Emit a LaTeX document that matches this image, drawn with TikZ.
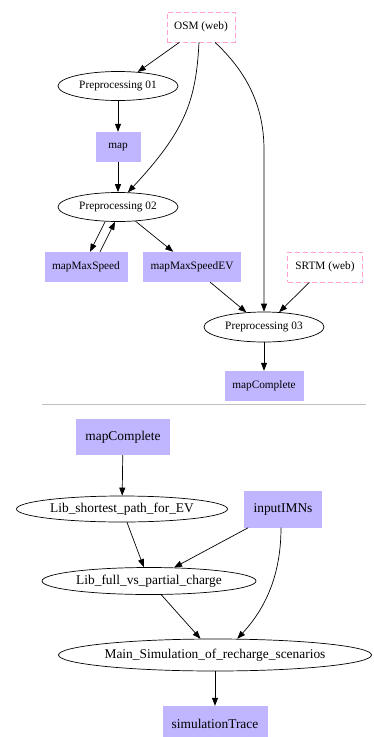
\documentclass[tikz,border=0pt]{standalone}
\usepackage{fontspec}
\setmainfont{Liberation Serif}
\usetikzlibrary{shapes.geometric,arrows.meta}
\definecolor{datafill}{RGB}{192,182,255}
\definecolor{webdash}{RGB}{255,160,210}

\begin{document}
\begin{tikzpicture}[x=1pt, y=-1pt,
                    proc/.style={ellipse, draw, inner sep=0pt, line width=0.7pt,
                                  font=\fontsize{11.3}{13}\selectfont},
                    data/.style={rectangle, fill=datafill, inner sep=0pt,
                                 minimum height=30pt,
                                 font=\fontsize{11.3}{13}\selectfont},
                    web/.style={rectangle, draw=webdash, inner sep=0pt,
                                line width=0.7pt, dash pattern=on 5pt off 3pt,
                                minimum height=30pt,
                                font=\fontsize{11.3}{13}\selectfont},
                    big/.style={font=\fontsize{13.4}{16}\selectfont},
                    arr/.style={-{Triangle[length=8pt,width=6pt]}, line width=0.7pt}]
    \useasboundingbox (0,0) rectangle (374,737);

    % first graph
    \node[web, minimum width=68pt] (osm) at (201,27) {OSM (web)};
    \node[proc, minimum width=120pt, minimum height=29pt] (p1) at (118,86) {Preprocessing 01};
    \node[data, minimum width=45pt] (map) at (118,147) {map};
    \node[proc, minimum width=120pt, minimum height=29pt] (p2) at (118,207) {Preprocessing 02};
    \node[data, minimum width=83pt] (mms) at (86,267) {mapMaxSpeed};
    \node[data, minimum width=98pt] (mmsev) at (192,267) {mapMaxSpeedEV};
    \node[web, minimum width=75pt] (srtm) at (325,267) {SRTM (web)};
    \node[proc, minimum width=120pt, minimum height=30pt] (p3) at (264,327) {Preprocessing 03};
    \node[data, minimum width=79pt] (mc) at (264,386) {mapComplete};
    \coordinate (bend) at (264,150);

    \foreach \i/\j in {osm/p1, p1/map, map/p2, p2/mmsev, mmsev/p3,
            srtm/p3, p3/mc} {
            \draw[arr] (\i) -- (\j);
        }
    \draw[arr] ([xshift=-13pt]p2.south) -- ([xshift=4pt]mms.north);
    \draw[arr] ([xshift=14pt]mms.north) -- ([xshift=-3pt]p2.south);
    \draw[arr] ([xshift=-2pt]osm.south) .. controls (196,100) and (186,130) .. (p2.56);
    \draw[arr] ([xshift=14pt]osm.south) .. controls (250,75) and (264,110) .. (bend) -- (p3.north);

    \draw[black!25, line width=0.7pt] (42,404) -- (366,404);

    % second graph
    \node[data, big, minimum width=94pt, minimum height=36pt] (mc2) at (123,437) {mapComplete};
    \node[proc, big, minimum width=211pt, minimum height=26pt] (lsp) at (122,509) {Lib\_shortest\_path\_for\_EV};
    \node[data, big, minimum width=78pt, minimum height=37pt] (imn) at (283,509) {inputIMNs};
    \node[proc, big, minimum width=214pt, minimum height=27pt] (lfp) at (149,581) {Lib\_full\_vs\_partial\_charge};
    \node[proc, big, minimum width=313pt, minimum height=32pt] (sim) at (215,655) {Main\_Simulation\_of\_recharge\_scenarios};
    \node[data, big, minimum width=105pt, minimum height=36pt] (trace) at (215,724) {simulationTrace};

    \foreach \i/\j in {mc2/lsp, lsp/lfp, imn/lfp, lfp/sim, sim/trace} {
            \draw[arr] (\i) -- (\j);
        }
    \draw[arr] ([xshift=-2pt]imn.south) .. controls (281,580) and (262,612) .. (sim.36);
\end{tikzpicture}
\end{document}
